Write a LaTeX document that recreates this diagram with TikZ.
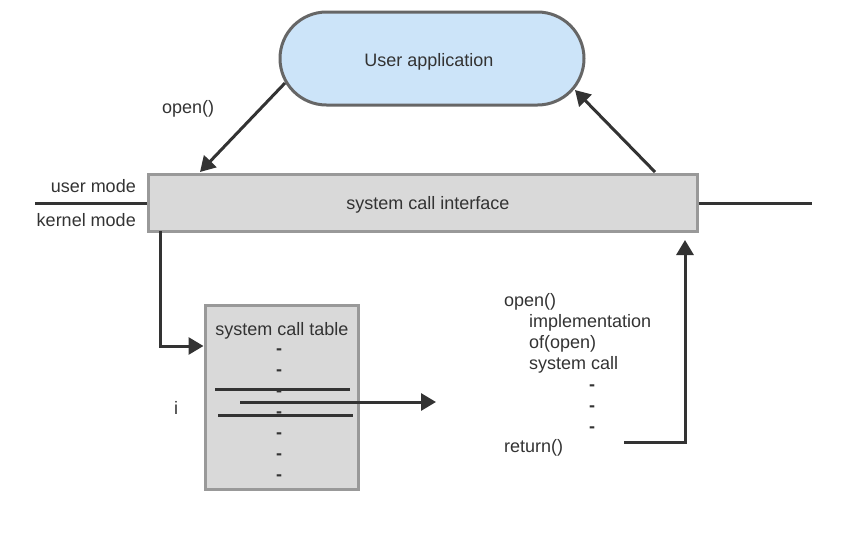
\documentclass[tikz,border=0pt]{standalone}
\usepackage{fontspec}
\setmainfont{Liberation Sans}
\usetikzlibrary{arrows.meta,shapes.misc}
\definecolor{txt}{HTML}{333333}
\definecolor{appfill}{HTML}{CCE4F9}
\definecolor{appline}{HTML}{666666}
\definecolor{boxfill}{HTML}{D9D9D9}
\definecolor{boxline}{HTML}{999999}
\definecolor{wire}{HTML}{333333}
\begin{document}
\begin{tikzpicture}[x=1pt,y=-1pt,
  every node/.style={text=txt,font=\fontsize{18}{21}\selectfont,inner sep=0pt},
  wirestyle/.style={draw=wire,line width=3pt},
  arrowstyle/.style={wirestyle,-{Triangle[length=15pt,width=17pt]}},
  graybox/.style={draw=boxline,fill=boxfill,line width=3pt},
  lbl/.style={anchor=base west}]
\useasboundingbox (0,0) rectangle (849,547);

% user application
\node[draw=appline,fill=appfill,line width=3pt,rounded rectangle,
      minimum width=304pt,minimum height=93pt] (app) at (432,58.5) {};
\node[anchor=base] (appt) at (429,66) {User application};

% system call interface and the user/kernel boundary
\node[graybox,minimum width=549pt,minimum height=57pt] (sci) at (422.5,202.5) {};
\node[anchor=base] (scit) at (428,209) {system call interface};
\coordinate (bl) at (35,203);
\coordinate (br) at (812,203);
\draw[wirestyle] (bl) -- (sci.west |- bl);
\draw[wirestyle] (sci.east |- br) -- (br);
\node[anchor=base east] (um) at (136,192) {user mode};
\node[anchor=base east] (km) at (136,226) {kernel mode};

% calls between application and interface
\coordinate (a1) at (285,83);
\coordinate (s1) at (200,172);
\draw[arrowstyle] (a1) -- (s1);
\node[lbl] (openlbl) at (162,113) {open()};
\coordinate (s2) at (655,172);
\coordinate (a2) at (575,90);
\draw[arrowstyle] (s2) -- (a2);

% system call table
\node[graybox,minimum width=153pt,minimum height=184pt] (tab) at (281.5,397) {};
\node[anchor=base] (tabt) at (282,335) {system call table};
\foreach \y [count=\k] in {349,370,391,412,433,454,475}
  \node[anchor=base,font=\fontsize{18}{21}\selectfont\bfseries] (d\k) at (279,\y+5) {-};
\coordinate (r1a) at (215,389); \coordinate (r1b) at (350,389);
\coordinate (r2a) at (218,415); \coordinate (r2b) at (353,415);
\draw[wirestyle] (r1a) -- (r1b);
\draw[wirestyle] (r2a) -- (r2b);
\node[anchor=base] (ilbl) at (176,414) {i};

% interface down to the table
\coordinate (t0) at (160,231);
\draw[arrowstyle] (t0) |- (tab.west |- 0,346);

% table entry to the implementation
\coordinate (e0) at (240,402);
\coordinate (e1) at (436,402);
\draw[arrowstyle] (e0) -- (e1);

% implementation of open()
\node[lbl] (o1) at (504,306) {open()};
\node[lbl] (o2) at (529,327) {implementation};
\node[lbl] (o3) at (529,348) {of(open)};
\node[lbl] (o4) at (529,369) {system call};
\node[anchor=base,font=\fontsize{18}{21}\selectfont\bfseries] (o5) at (592,390) {-};
\node[anchor=base,font=\fontsize{18}{21}\selectfont\bfseries] (o6) at (592,411) {-};
\node[anchor=base,font=\fontsize{18}{21}\selectfont\bfseries] (o7) at (592,432) {-};
\node[lbl] (o8) at (504,452) {return()};

% return back to the interface
\coordinate (ret) at (624,442);
\coordinate (up) at (685,240);
\draw[arrowstyle] (ret) -| (up);
\end{tikzpicture}
\end{document}
